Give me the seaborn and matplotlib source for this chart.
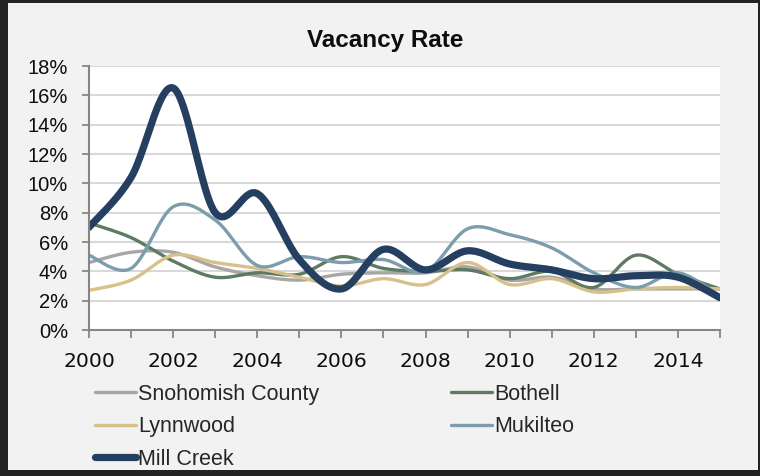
import numpy as np
import pandas as pd
import matplotlib
matplotlib.use("Agg")
import matplotlib.pyplot as plt
from matplotlib.patches import Rectangle
from matplotlib.lines import Line2D
import seaborn as sns

# Vacancy rate by year (%)
years = list(range(2000, 2016))
snohomish_county = [4.6, 5.3, 5.3, 4.3, 3.7, 3.4, 3.8, 3.9, 3.9, 4.3, 3.4, 3.6, 2.8, 2.8, 2.8, 2.8]
bothell = [7.3, 6.3, 4.7, 3.6, 3.9, 3.8, 5.0, 4.2, 4.0, 4.1, 3.5, 4.0, 2.9, 5.1, 3.8, 2.8]
lynnwood = [2.7, 3.4, 5.1, 4.6, 4.2, 3.6, 3.0, 3.5, 3.1, 4.6, 3.1, 3.5, 2.6, 2.8, 2.9, 2.8]
mukilteo = [5.1, 4.2, 8.4, 7.5, 4.4, 5.0, 4.6, 4.8, 4.0, 6.9, 6.5, 5.6, 3.9, 2.9, 3.9, 2.3]
mill_creek = [7.0, 10.4, 16.5, 8.0, 9.3, 4.8, 2.8, 5.5, 4.1, 5.4, 4.5, 4.1, 3.5, 3.7, 3.6, 2.2]

series_names = ["Snohomish County", "Bothell", "Lynnwood", "Mukilteo", "Mill Creek"]
series_values = [snohomish_county, bothell, lynnwood, mukilteo, mill_creek]
series_colors = ["#a6a6a6", "#5e7a63", "#d8c08a", "#7b9dac", "#243f60"]
series_widths = [2.4, 2.4, 2.4, 2.4, 5.2]

y_ticks = list(range(0, 20, 2))
x_label_years = list(range(2000, 2016, 2))


def smooth_curve(xs, ys, n=40):
    """Bezier smoothing through every point (Catmull-Rom style control points)."""
    pts = np.column_stack([xs, ys]).astype(float)
    out = []
    last = len(pts) - 2
    for i in range(len(pts) - 1):
        p0 = pts[max(i - 1, 0)]
        p1 = pts[i]
        p2 = pts[i + 1]
        p3 = pts[min(i + 2, len(pts) - 1)]
        c1 = p1 + (p2 - p0) / 6.0
        c2 = p2 - (p3 - p1) / 6.0
        t = np.linspace(0, 1, n, endpoint=(i == last))[:, None]
        seg = ((1 - t) ** 3) * p1 + 3 * ((1 - t) ** 2) * t * c1 + 3 * (1 - t) * t ** 2 * c2 + t ** 3 * p2
        out.append(seg)
    seg = np.vstack(out)
    return seg[:, 0], seg[:, 1]


sns.set_theme(style="white")
plt.rcParams["font.family"] = ["Liberation Sans", "DejaVu Sans"]

W, H = 760, 476
fig = plt.figure(figsize=(W / 100, H / 100), dpi=100)
fig.patch.set_facecolor("#232323")
fig.patches.append(Rectangle((8 / W, 6 / H), (758 - 8) / W, (473 - 6) / H,
                             transform=fig.transFigure, facecolor="#f2f2f2",
                             edgecolor="none", zorder=-10))

ax = fig.add_axes([89 / W, 1 - 330 / H, (720 - 89) / W, (330 - 66) / H])
ax.set_zorder(1)
ax.set_facecolor("white")

for name, vals, color, lw in zip(series_names, series_values, series_colors, series_widths):
    sx, sy = smooth_curve(years, vals)
    frame = pd.DataFrame({"year": sx, "rate": sy})
    sns.lineplot(data=frame, x="year", y="rate", ax=ax, color=color, linewidth=lw,
                 sort=False, estimator=None, label=name, legend=False,
                 solid_capstyle="round", solid_joinstyle="round")

ax.set_xlim(2000, 2015)
ax.set_ylim(0, 18)
ax.set_xlabel("")
ax.set_ylabel("")

ax.set_yticks(y_ticks)
ax.set_yticklabels([f"{v}%" for v in y_ticks], fontsize=14.5, family="Liberation Sans")
ax.set_xticks(years)
ax.set_xticklabels([str(y) if y in x_label_years else "" for y in years],
                   fontsize=14.6, family="DejaVu Sans")

for v in y_ticks[1:]:
    ax.axhline(v, color="#d9d9d9", lw=1.5, zorder=0.5)

for side in ["top", "right"]:
    ax.spines[side].set_visible(False)
for side in ["left", "bottom"]:
    ax.spines[side].set_color("#868686")
    ax.spines[side].set_linewidth(1.5)

ax.tick_params(axis="y", which="major", direction="out", length=5, width=1.3,
               color="#868686", pad=10, labelcolor="#0d0d0d", left=True)
ax.tick_params(axis="x", which="major", direction="out", length=5.5, width=1.3,
               color="#868686", pad=10, labelcolor="#0d0d0d", bottom=True)

fig.text(385 / W, 1 - 40 / H, "Vacancy Rate", ha="center", va="center",
         fontsize=17.5, fontweight="bold", color="#0d0d0d")

# Legend: filled column-wise, so reorder to read across rows
order = [0, 2, 4, 1, 3]
handles = [Line2D([0], [0], color=series_colors[i], lw=series_widths[i],
                  solid_capstyle="round") for i in order]
labels = [series_names[i] for i in order]
fig.legend(handles, labels, ncol=2, loc="upper left",
           bbox_to_anchor=(95 / W, 1 - 384 / H), frameon=False, fontsize=15.5,
           handlelength=1.9, handletextpad=0.1, columnspacing=6.13,
           labelspacing=0.53, borderaxespad=0, borderpad=0)

fig.savefig("out.png", dpi=100, facecolor=fig.get_facecolor())
